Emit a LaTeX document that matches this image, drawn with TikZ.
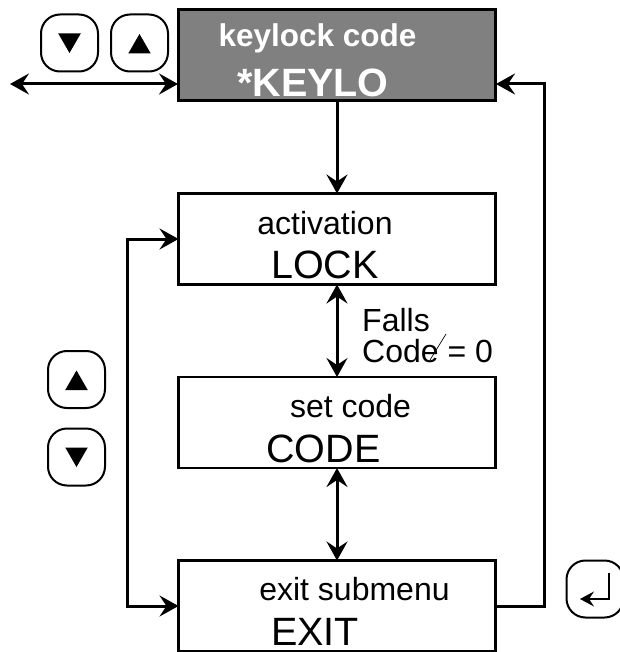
\documentclass[tikz,border=0pt]{standalone}
\usepackage{fontspec}
\setmainfont{Liberation Sans}
\usetikzlibrary{arrows.meta,positioning,shapes.geometric}

\begin{document}
\begin{tikzpicture}[
    x=1pt, y=-1pt,
    node distance=92.5pt,
    menubox/.style={rectangle, draw=black, line width=2.5pt, outer sep=0pt, inner sep=0pt, minimum width=317pt, minimum height=91pt},
    keybox/.style={rectangle, rounded corners=19pt, draw=black, line width=2pt, outer sep=0pt, minimum size=57pt},
    triup/.style={regular polygon, regular polygon sides=3, fill=black, inner sep=0pt, minimum size=26pt, yshift=-4pt},
    tridown/.style={triup, shape border rotate=180, yshift=7pt},
    small/.style={font=\fontsize{32pt}{32pt}\selectfont, anchor=base, inner sep=0pt},
    big/.style={font=\fontsize{39.5pt}{40pt}\selectfont, anchor=base, inner sep=0pt},
    arr/.style={{Stealth[length=19pt,width=21pt,inset=7pt]}-{Stealth[length=19pt,width=21pt,inset=7pt]}, line width=3pt},
    arrone/.style={-{Stealth[length=19pt,width=21pt,inset=7pt]}, line width=3pt}
]
    \useasboundingbox (0,0) rectangle (619,652);

    % menu entries
    \node[menubox, fill=black!50, line width=3pt] (top) at (337,55.5) {};
    \node[menubox, below=of top] (lock) {};
    \node[menubox, below=of lock] (code) {};
    \node[menubox, below=of code] (exit) {};

    % texts in the boxes
    \node[small, text=white, font=\fontsize{31.5pt}{32pt}\bfseries\selectfont] (toplabel) at (317.5,47) {keylock code};
    \node[big, text=white, font=\fontsize{39.5pt}{40pt}\bfseries\selectfont] (topvalue) at (313,97) {*KEYLO};
    \node[small] (locklabel) at (325,234) {activation};
    \node[big] (lockvalue) at (325,278) {LOCK};
    \node[small] (codelabel) at (350.5,417) {set code};
    \node[big] (codevalue) at (323.5,462) {CODE};
    \node[small] (exitlabel) at (354.5,600) {exit submenu};
    \node[big] (exitvalue) at (315,645) {EXIT};
    \node[small, anchor=base west] (falls) at (362,331) {Falls};
    \node[small, anchor=base west] (fallscode) at (362,362) {Code = 0};
    \coordinate (slasha) at (430,360);
    \coordinate (slashb) at (446,334);
    \draw[line width=0.7pt] (slasha) -- (slashb);

    % keys
    \node[keybox] (keydown) at (69.5,43) {};
    \node[keybox] (keyup) at (139.5,43) {};
    \node[keybox] (sideup) at (76.5,379.5) {};
    \node[keybox] (sidedown) at (76.5,457) {};
    \node[keybox] (keyenter) at (595,589) {};
    \node[tridown] (tridownone) at (keydown) {};
    \node[triup] (triupone) at (keyup) {};
    \node[triup] (triuptwo) at (sideup) {};
    \node[tridown] (tridowntwo) at (sidedown) {};
    \coordinate (entera) at (609,573);
    \coordinate (enterb) at (609,599);
    \coordinate (enterc) at (580,599);
    \draw[-{Stealth[length=14pt,width=15pt,inset=5pt]}, line width=1.5pt] (entera) -- (enterb) -- (enterc);

    % connectors
    \coordinate (leftend) at (10,84);
    \coordinate (topleft) at (178,84);
    \coordinate (topright) at (496,84);
    \coordinate (loopx) at (127,0);
    \coordinate (backx) at (544,0);
    \draw[arr] (leftend) -- (topleft);
    \draw[arrone] (top) -- (lock);
    \draw[arr] (lock) -- (code);
    \draw[arr] (code) -- (exit);
    \draw[arr] (lock.west) -- (lock.west -| loopx) -- (exit.west -| loopx) -- (exit.west);
    \draw[arrone] (exit.east) -- (exit.east -| backx) -- (topright -| backx) -- (topright);
\end{tikzpicture}
\end{document}
